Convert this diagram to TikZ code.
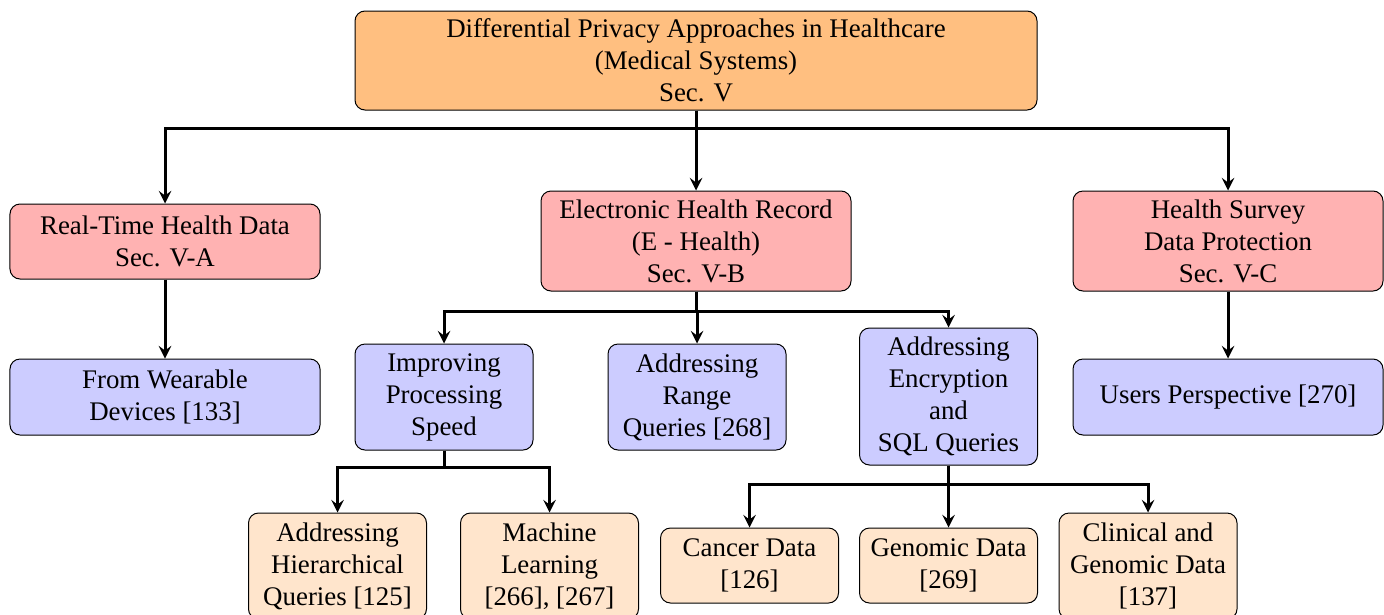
\documentclass[tikz,border=0pt]{standalone}
\usepackage{fontspec}
\setmainfont{Liberation Serif}
\tikzstyle{box}=[draw, rounded corners, align=center, inner sep=3pt, font=\fontsize{10.75}{12.8}\selectfont]
\tikzstyle{rootbox}=[box, fill=orange!50, minimum width=272.8pt, minimum height=39.6pt]
\tikzstyle{secbox}=[box, fill=red!30, minimum width=124pt]
\tikzstyle{topicbox}=[box, fill=blue!20, minimum width=71.2pt, minimum height=42.4pt]
\tikzstyle{workbox}=[box, fill=orange!20, minimum width=71.2pt, minimum height=30pt]

\begin{document}
\begin{tikzpicture}[x=0.4pt, y=-0.4pt,
    arrow/.style={draw, very thick, ->, >=stealth}
]
\useasboundingbox (0,0) rectangle (1384,614);
% level 0
\node[rootbox] (root) at (696,60.5) {Differential Privacy Approaches in Healthcare\\(Medical Systems)\\Sec. V};
% level 1
\node[secbox, minimum height=30pt] (rt) at (165,241.5) {Real-Time Health Data\\Sec. V-A};
\node[secbox, minimum height=40pt] (ehr) at (696,241) {Electronic Health Record\\(E - Health)\\Sec. V-B};
\node[secbox, minimum height=40pt] (hs) at (1228,241) {Health Survey\\Data Protection\\Sec. V-C};
% level 2
\node[topicbox, minimum width=124pt, minimum height=30.4pt] (wear) at (165,397) {From Wearable\\Devices [133]};
\node[topicbox] (speed) at (444,397) {Improving\\Processing\\Speed};
\node[topicbox] (range) at (697,397) {Addressing\\Range\\Queries [268]};
\node[topicbox, minimum height=54.8pt] (sql) at (948.5,396.5) {Addressing\\Encryption\\and\\SQL Queries};
\node[topicbox, minimum width=124pt, minimum height=30.4pt] (users) at (1228,397) {Users Perspective [270]};
% level 3
\node[workbox, minimum height=42.4pt] (hier) at (337.5,566) {Addressing\\Hierarchical\\Queries [125]};
\node[workbox, minimum height=42.4pt] (ml) at (549.5,566) {Machine\\Learning\\{[266], [267]}};
\node[workbox] (cancer) at (749.5,565.5) {Cancer Data\\{[126]}};
\node[workbox] (genome) at (948.5,565.5) {Genomic Data\\{[269]}};
\node[workbox, minimum height=42.4pt] (clin) at (1148,566) {Clinical and\\Genomic Data\\{[137]}};

\foreach \c in {rt,ehr,hs}
    \draw[arrow] (root.south) -- ++(0,18) -| (\c.north);
\draw[arrow] (rt.south) -- (wear.north);
\draw[arrow] (hs.south) -- (users.north);
\foreach \c in {speed,range,sql}
    \draw[arrow] (ehr.south) -- ++(0,20) -| (\c.north);
\foreach \c in {hier,ml}
    \draw[arrow] (speed.south) -- ++(0,17) -| (\c.north);
\foreach \c in {cancer,genome,clin}
    \draw[arrow] (sql.south) -- ++(0,19) -| (\c.north);
\end{tikzpicture}
\end{document}
